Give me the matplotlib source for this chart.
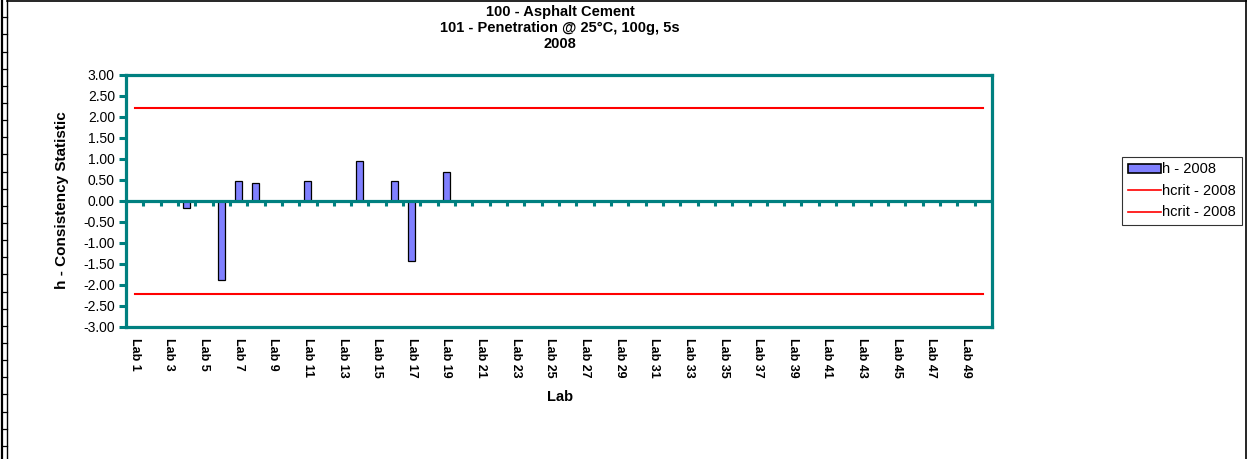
import numpy as np
import matplotlib
matplotlib.use("Agg")
import matplotlib.pyplot as plt
from matplotlib.lines import Line2D
from matplotlib.patches import Patch

plt.rcParams['font.family'] = ['Liberation Sans', 'DejaVu Sans']

# Laboratories 1..50 and the h statistic reported for 2008
labs = [f"Lab {i}" for i in range(1, 51)]
h_labs = ["Lab 4", "Lab 6", "Lab 7", "Lab 8", "Lab 11", "Lab 14", "Lab 16", "Lab 17", "Lab 19"]
h_values = [-0.17, -1.89, 0.48, 0.43, 0.48, 0.94, 0.48, -1.44, 0.68]
h_crit = 2.21
tick_labels = labs[::2]

TEAL = "#008080"
BAR = "#8080FF"
W, H = 1247, 459

fig = plt.figure(figsize=(W / 100, H / 100), dpi=100)
ax = fig.add_axes([126 / W, 1 - 326.7 / H, (992 - 126) / W, (326.7 - 74.7) / H])

x = np.arange(len(labs))
h_series = np.full(len(labs), np.nan)
for lab, v in zip(h_labs, h_values):
    h_series[labs.index(lab)] = v

ax.bar(x, np.nan_to_num(h_series), width=0.4, color=BAR, edgecolor="black",
       linewidth=0.9, zorder=3)
ax.plot([x[0], x[-1]], [h_crit, h_crit], color="#FF0000", lw=1.5, zorder=2)
ax.plot([x[0], x[-1]], [-h_crit, -h_crit], color="#FF0000", lw=1.5, zorder=2)

ax.set_xlim(-0.5, len(labs) - 0.5)
ax.set_ylim(-3, 3)
ax.set_yticks(np.arange(-3, 3.01, 0.5))
ax.yaxis.set_major_formatter(matplotlib.ticker.FormatStrFormatter("%.2f"))
ax.tick_params(axis="y", direction="out", length=5, width=2.2, color=TEAL,
               labelsize=10, pad=3)
ax.set_xticks(x[::2])
ax.set_xticklabels(tick_labels, rotation=270, fontsize=9, fontweight="bold")
ax.tick_params(axis="x", length=0, pad=8)

for s in ax.spines.values():
    s.set_color(TEAL)
    s.set_linewidth(2.3)

# category axis crossing at zero, with ticks between categories
ax.axhline(0, color=TEAL, lw=2.3, zorder=4)
bounds = np.arange(0.5, len(labs) - 0.5, 1.0)
ax.vlines(bounds, -0.13, 0, color=TEAL, lw=2.2, zorder=4)

fig.text(62 / W, 1 - 200 / H, "h - Consistency Statistic", rotation=90,
         ha="center", va="center", fontsize=11, fontweight="bold")
fig.text(560 / W, 1 - 397 / H, "Lab", ha="center", va="center",
         fontsize=10.5, fontweight="bold")

fig.text(560 / W, 1 - 12 / H, "100 - Asphalt Cement", ha="center", va="center",
         fontsize=10.5, fontweight="bold")
fig.text(560 / W, 1 - 28 / H, "101 - Penetration @ 25°C, 100g, 5s", ha="center",
         va="center", fontsize=10.5, fontweight="bold")
fig.text(560 / W, 1 - 44 / H, "2008", ha="center", va="center",
         fontsize=10.5, fontweight="bold")

handles = [Patch(facecolor=BAR, edgecolor="black", linewidth=1.2),
           Line2D([], [], color="#FF0000", lw=1.2),
           Line2D([], [], color="#FF0000", lw=1.2)]
leg = fig.legend(handles, ["h - 2008", "hcrit - 2008", "hcrit - 2008"],
                 loc="upper left", bbox_to_anchor=(1122 / W, 1 - 156.5 / H),
                 fontsize=10.5, frameon=True, fancybox=False, borderpad=0.4,
                 handlelength=2.3, handleheight=0.6, handletextpad=0.05,
                 labelspacing=0.52, borderaxespad=0)
leg.get_frame().set_edgecolor("black")
leg.get_frame().set_linewidth(0.8)

# sheet border
def fline(xs, ys, lw=1.2):
    fig.add_artist(Line2D([v / W for v in xs], [1 - v / H for v in ys],
                          transform=fig.transFigure, color="black", lw=lw))

fline([7, W], [0.5, 0.5])
fline([1245.5, 1245.5], [0, H])
fline([1.5, 1.5], [0, H], lw=1.6)
fline([6.5, 6.5], [0, H], lw=1.0)
yy = 17.3
while yy < H:
    fline([1.5, 6.5], [yy, yy], lw=0.9)
    yy += 17.14

fig.savefig("out.png", dpi=100)
